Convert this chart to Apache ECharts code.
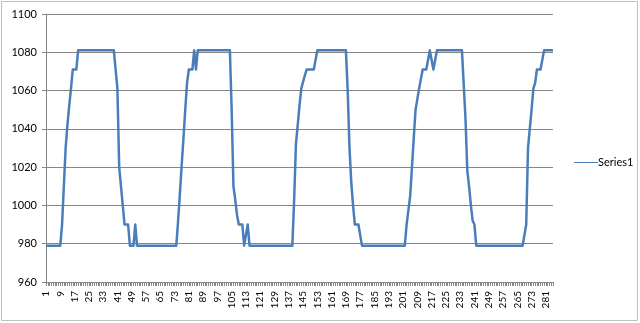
<!DOCTYPE html>
<html>
<head>
<meta charset="utf-8">
<script src="https://cdn.jsdelivr.net/npm/echarts@6/dist/echarts.min.js"></script>
<style>
html,body{margin:0;padding:0;background:#fff;}
#c{width:640px;height:323px;}
</style>
</head>
<body>
<div id="c"></div>
<script>
// Values read per category index (1..285)
const series1 = [
  979,979,979,979,979,979,979,979,979,            // 1-9
  990,1010,1030,1042,1052,1061,1071,1071,1071,    // 10-18
  1081,1081,1081,1081,1081,1081,1081,1081,1081,1081,1081,1081,1081,1081,1081,1081,1081,1081,1081,1081,1081,1081, // 19-40
  1061,1020,1010,1000,990,990,990,                // 41-47
  979,979,979,990,                                // 48-51
  979,979,979,979,979,979,979,979,979,979,979,979,979,979,979,979,979,979,979,979,979,979,979, // 52-74
  992,1006,1021,1035,1050,1064,1071,              // 75-81
  1071,1071,1081,1071,                            // 82-85
  1081,1081,1081,1081,1081,1081,1081,1081,1081,1081,1081,1081,1081,1081,1081,1081,1081,1081,1081, // 86-104
  1050,1010,1003,995,990,990,990,                 // 105-111
  979,979,990,979,                                // 112-115
  979,979,979,979,979,979,979,979,979,979,979,979,979,979,979,979,979,979,979,979,979,979,979,979, // 116-139
  1003,1032,1042,1052,1061,1061,1068,             // 140-146
  1071,1071,1071,1071,1071,1071,                  // 147-152
  1081,1081,1081,1081,1081,1081,1081,1081,1081,1081,1081,1081,1081,1081,1081,1081,1081, // 153-169
  1060,1030,1012,1000,990,990,990,990,            // 170-177
  979,979,979,979,979,979,979,979,979,979,979,979,979,979,979,979,979,979,979,979,979,979,979,979,979, // 178-202
  990,990,1005,1020,1035,1050,1050,1061,1061,1071,1071,1071,1076,1081,1076,1071,1076,1081, // 203-220
  1081,1081,1081,1081,1081,1081,1081,1081,1081,1081,1081,1081,1081,1081,1081, // 221-235
  1045,1018,1010,1000,992,990,                    // 236-241
  979,979,979,979,979,979,979,979,979,979,979,979,979,979,979,979,979,979,979,979,979,979,979,979,979,979,979,979, // 242-269
  990,1030,1040,1050,1061,1064,1071,1071,1071,1076, // 270-279
  1081,1081,1081,1081,1081,1081                   // 280-285
];
const categories = series1.map((_, i) => String(i + 1));
const yMin = 960, yMax = 1100, yStep = 20;
const seriesName = 'Series1';

const font = 'Lato, "Open Sans", "Liberation Sans", sans-serif';
const chart = echarts.init(document.getElementById('c'), null, {renderer: 'canvas'});
chart.setOption({
  animation: false,
  backgroundColor: '#fff',
  graphic: [{
    type: 'rect', z: -10,
    shape: {x: 1.5, y: 1.5, width: 636, height: 319},
    style: {fill: 'none', stroke: '#bfbfbf', lineWidth: 1}
  }],
  grid: {left: 46, right: 87, top: 14, bottom: 41, containLabel: false},
  legend: {
    show: true,
    data: [seriesName],
    orient: 'vertical',
    left: 569, top: 152,
    itemWidth: 24, itemHeight: 10, itemGap: 0,
    icon: 'path://M0,4.5 L24,4.5 L24,5.5 L0,5.5 Z',
    textStyle: {fontFamily: font, fontSize: 11, color: '#000', padding: [0,0,0,-5]}
  },
  xAxis: {
    type: 'category',
    data: categories,
    boundaryGap: false,
    axisLine: {lineStyle: {color: '#868686', width: 1}},
    axisTick: {show: true, interval: 0, length: 4, lineStyle: {color: '#868686'}},
    axisLabel: {
      interval: 7, rotate: 90, margin: 9,
      fontFamily: font, fontSize: 10, color: '#000'
    },
    splitLine: {show: false}
  },
  yAxis: {
    type: 'value',
    min: yMin, max: yMax, interval: yStep,
    axisLine: {show: true, lineStyle: {color: '#868686', width: 1}},
    axisTick: {show: true, length: 4, lineStyle: {color: '#868686'}},
    axisLabel: {margin: 9, fontFamily: font, fontSize: 11, color: '#000', formatter: v => String(v)},
    splitLine: {show: true, lineStyle: {color: '#868686', width: 1}}
  },
  series: [{
    name: seriesName,
    type: 'line',
    data: series1,
    showSymbol: false,
    symbol: 'none',
    lineStyle: {color: '#4a7ebb', width: 2.5, join: 'round'},
    itemStyle: {color: '#4a7ebb'}
  }]
});
</script>
</body>
</html>
